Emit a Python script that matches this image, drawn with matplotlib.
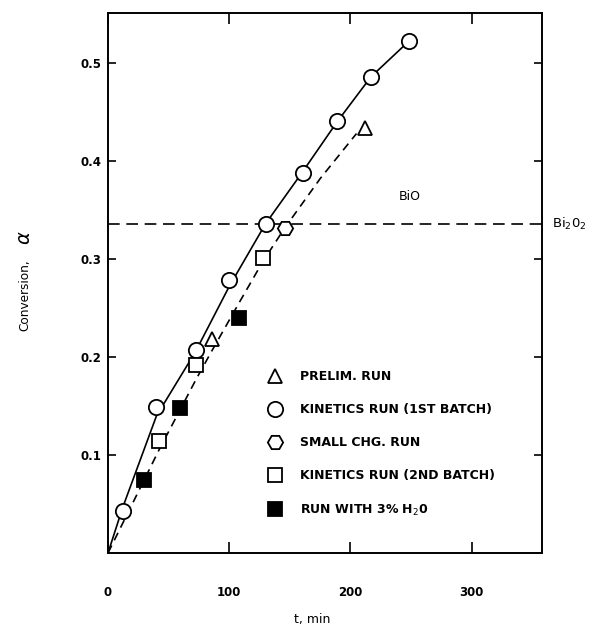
import matplotlib
matplotlib.use("Agg")
import matplotlib.pyplot as plt
from matplotlib.lines import Line2D

plt.rcParams['font.family'] = ['DejaVu Sans']
plt.rcParams['mathtext.fontset'] = 'dejavusans'

# ---- data ----
prelim_t = [86, 212]
prelim_a = [0.218, 0.434]

kin1_t = [12, 40, 72.5, 100, 130, 160.5, 189, 217, 248]
kin1_a = [0.043, 0.149, 0.207, 0.279, 0.336, 0.388, 0.441, 0.486, 0.522]

small_t = [146]
small_a = [0.332]

kin2_t = [42, 72.7, 128]
kin2_a = [0.114, 0.192, 0.301]

h2o_t = [30, 59, 108]
h2o_a = [0.0745, 0.148, 0.240]

solid_t = [0, 12, 40, 72, 100, 130, 160, 189, 217, 248]
solid_a = [0, 0.046, 0.140, 0.205, 0.272, 0.336, 0.388, 0.440, 0.486, 0.522]

dashed_t = [0, 30, 42, 59, 73, 86, 108, 128, 146, 175, 205]
dashed_a = [0, 0.075, 0.105, 0.145, 0.178, 0.207, 0.255, 0.298, 0.332, 0.382, 0.428]

bio_level = 0.336

xticks = [0, 100, 200, 300]
yticks = [0.1, 0.2, 0.3, 0.4, 0.5]

labels = ["PRELIM. RUN", "KINETICS RUN (1ST BATCH)", "SMALL CHG. RUN",
          "KINETICS RUN (2ND BATCH)", "RUN WITH 3% H$_2$0"]

# ---- figure ----
fig = plt.figure(figsize=(6.14, 6.31), dpi=100)
ax = fig.add_axes([108/614, 1-553/631, 434/614, 540/631])
ax.set_xlim(0, 358)
ax.set_ylim(0, 0.551)

lw = 1.2
ax.plot(solid_t, solid_a, color='black', lw=lw, zorder=2)
ax.plot(dashed_t, dashed_a, color='black', lw=lw, dashes=(5, 3.5), zorder=2)
ax.axhline(bio_level, color='black', lw=lw, dashes=(7, 4), zorder=1)

mk = dict(color='black', linestyle='none', markeredgewidth=1.3, zorder=3)
ax.plot(prelim_t, prelim_a, marker='^', markersize=10, markerfacecolor='white', **mk)
ax.plot(kin1_t, kin1_a, marker='o', markersize=11, markerfacecolor='white', **mk)
ax.plot(small_t, small_a, marker='H', markersize=11, markerfacecolor='white', **mk)
ax.plot(kin2_t, kin2_a, marker='s', markersize=10, markerfacecolor='white', **mk)
ax.plot(h2o_t, h2o_a, marker='s', markersize=10, markerfacecolor='black', **mk)

handles = [
    Line2D([], [], marker='^', markersize=10, markerfacecolor='white', **mk),
    Line2D([], [], marker='o', markersize=11, markerfacecolor='white', **mk),
    Line2D([], [], marker='H', markersize=11, markerfacecolor='white', **mk),
    Line2D([], [], marker='s', markersize=10, markerfacecolor='white', **mk),
    Line2D([], [], marker='s', markersize=10, markerfacecolor='black', **mk),
]
leg = ax.legend(handles, labels, loc='upper left', bbox_to_anchor=(0.368, 0.338),
                frameon=False, fontsize=9, labelspacing=1.6, handletextpad=1.35,
                handlelength=1.2, borderaxespad=0, borderpad=0)
for t in leg.get_texts():
    t.set_fontweight('bold')

ax.text(0.696, bio_level + 0.021, "BiO", transform=ax.get_yaxis_transform(),
        fontsize=9, ha='center', va='bottom')
ax.text(1.022, bio_level, "Bi$_2$0$_2$", transform=ax.get_yaxis_transform(),
        fontsize=9.5, ha='left', va='center', clip_on=False)

ax.set_xticks(xticks)
ax.set_yticks(yticks)
ax.set_xticklabels([str(v) for v in xticks], fontsize=8.5, fontweight='bold')
ax.set_yticklabels([f"{v:.1f}" for v in yticks], fontsize=8.5, fontweight='bold')
ax.tick_params(axis='both', direction='in', top=True, right=True, width=1.2)
ax.tick_params(axis='x', length=8, pad=23.5)
ax.tick_params(axis='y', length=6, pad=5)
for s in ax.spines.values():
    s.set_linewidth(1.4)

fig.text(312/614, 1-620/631, "t, min", fontsize=9, ha='center', va='center')
fig.text(25/614, 1-295/631, "Conversion,", rotation=90, fontsize=8.7,
         ha='center', va='center')
fig.text(25/614, 1-238/631, r"$\alpha$", rotation=90, fontsize=14,
         ha='center', va='center')

fig.savefig("out.png", dpi=100)
